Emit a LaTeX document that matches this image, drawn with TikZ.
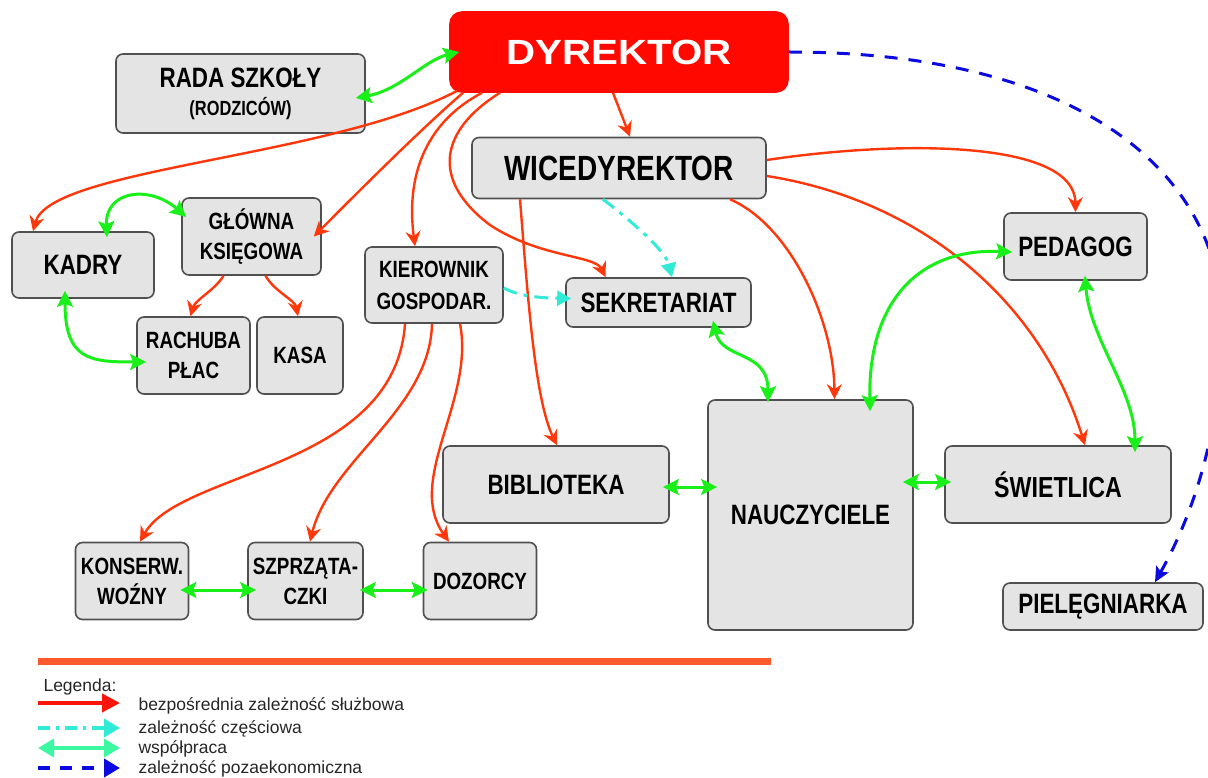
\documentclass[tikz,border=0pt]{standalone}
\usepackage{fontspec}
\setmainfont{Liberation Sans}
\newfontfamily\boxfont{Liberation Sans}[FakeStretch=0.8]
\newfontfamily\dirfont{Liberation Sans}[FakeStretch=1.15]
\usetikzlibrary{arrows.meta}
\definecolor{dyrred}{RGB}{255,8,0}
\definecolor{redline}{RGB}{255,55,10}
\definecolor{greenline}{RGB}{25,240,25}
\definecolor{cyanline}{RGB}{50,235,215}
\definecolor{blueline}{RGB}{10,10,225}
\definecolor{boxfill}{RGB}{228,228,228}
\definecolor{boxline}{RGB}{80,80,80}
\definecolor{barcolor}{RGB}{255,90,45}
\definecolor{leggreen}{RGB}{60,248,160}
\definecolor{legred}{RGB}{255,20,10}

\begin{document}
\begin{tikzpicture}[x=1pt,y=-1pt,
    orgbox/.style={draw=boxline,fill=boxfill,line width=1.6pt,rounded corners=7pt,inner sep=0pt,align=center},
    bigtxt/.style={font=\boxfont\bfseries\fontsize{28}{30}\selectfont},
    midtxt/.style={font=\boxfont\bfseries\fontsize{23.5}{30}\selectfont},
    legtxt/.style={font=\fontsize{17.5}{20}\selectfont,text=black!85},
    dep/.style={redline,line width=2.4pt,-{Stealth[length=15pt,width=15pt,inset=5pt]}},
    part/.style={cyanline,line width=3pt,dash pattern=on 14pt off 7pt on 4pt off 7pt,-{Triangle[length=14pt,width=15pt]}},
    coop/.style={greenline,line width=3pt,{Stealth[length=16pt,width=16pt,inset=3pt]}-{Stealth[length=16pt,width=16pt,inset=3pt]}},
    nonecon/.style={blueline,line width=3pt,dash pattern=on 13pt off 11pt,-{Stealth[length=15pt,width=14pt,inset=3pt]}}]
          \useasboundingbox (0,0) rectangle (1208,778);
          \clip (0,0) rectangle (1208,778);

          \node[orgbox,fill=dyrred,draw=dyrred,rounded corners=12pt,minimum width=338pt,minimum height=80pt,
                font=\dirfont\bfseries\fontsize{35}{36}\selectfont,text=white] (dyr) at (619,52) {DYREKTOR};
          \node[orgbox,minimum width=249pt,minimum height=79pt,font=\boxfont\bfseries\fontsize{20.5}{24}\selectfont] (rada) at (240.5,93.5)
                {{\fontsize{28}{30}\selectfont RADA SZKOŁY}\\[4pt](RODZICÓW)};
          \node[orgbox,font=\boxfont\bfseries\fontsize{35}{36}\selectfont,minimum width=294pt,minimum height=61pt] (wice) at (619,168) {WICEDYREKTOR};
          \node[orgbox,bigtxt,minimum width=142pt,minimum height=66pt] (kadry) at (83,265) {KADRY};
          \node[orgbox,midtxt,minimum width=139pt,minimum height=77pt] (glowna) at (251.5,236.5) {GŁÓWNA\\KSIĘGOWA};
          \node[orgbox,midtxt,minimum width=138pt,minimum height=76pt] (kier) at (434,285) {KIEROWNIK\\[2pt]GOSPODAR.};
          \node[orgbox,bigtxt,minimum width=185pt,minimum height=49pt] (sekr) at (658.5,302.5) {SEKRETARIAT};
          \node[orgbox,midtxt,minimum width=113pt,minimum height=77pt] (rachuba) at (193.5,355.5) {RACHUBA\\PŁAC};
          \node[orgbox,midtxt,minimum width=86pt,minimum height=77pt] (kasa) at (300,355.5) {KASA};
          \node[orgbox,bigtxt,minimum width=143pt,minimum height=67pt] (pedagog) at (1075.5,246.5) {PEDAGOG};
          \node[orgbox,bigtxt,minimum width=205pt,minimum height=230pt] (nauc) at (810.5,515) {NAUCZYCIELE};
          \node[orgbox,bigtxt,minimum width=226pt,minimum height=77pt] (bibl) at (556,484.5) {BIBLIOTEKA};
          \node[orgbox,font=\boxfont\bfseries\fontsize{29}{30}\selectfont,minimum width=226pt,minimum height=77pt] (swiet) at (1058,484.5) {ŚWIETLICA};
          \node[orgbox,bigtxt,minimum width=200pt,minimum height=47pt] (pielegn) at (1103,606.5) {PIELĘGNIARKA};
          \node[orgbox,midtxt,minimum width=113pt,minimum height=77pt] (konserw) at (132,581) {KONSERW.\\WOŹNY};
          \node[orgbox,midtxt,minimum width=115pt,minimum height=77pt] (szprz) at (305.5,581) {SZPRZĄTA-\\CZKI};
          \node[orgbox,midtxt,minimum width=113pt,minimum height=77pt] (dozor) at (480,581) {DOZORCY};

          \draw[dep] ([xshift=-6pt]dyr.south) -- ([xshift=11pt]wice.north);
          \draw[dep] ([xshift=8pt,yshift=2pt]dyr.south west) .. controls (330,158) and (50,168) .. ([xshift=-50pt]kadry.north);
          \draw[dep] ([xshift=-156pt]dyr.south) .. controls (420,130) and (360,190) .. ([xshift=-8pt]glowna.east);
          \draw[dep] ([xshift=-137pt]dyr.south) .. controls (430,120) and (405,170) .. ([xshift=-19pt]kier.north);
          \draw[dep] ([xshift=-119pt]dyr.south) .. controls (440,130) and (430,180) .. (490,225) .. controls (540,258) and (595,255) .. ([xshift=-53pt]sekr.north);
          \draw[dep] ([xshift=-99pt]wice.south) .. controls (528,300) and (535,400) .. ([xshift=1pt]bibl.north);
          \draw[dep] ([xshift=111pt]wice.south) .. controls (790,225) and (834,320) .. ([xshift=24pt]nauc.north);
          \draw[dep] ([yshift=8pt]wice.east) .. controls (900,140) and (1075,140) .. (pedagog.north);
          \draw[dep] ([yshift=-8pt]wice.east) .. controls (920,200) and (1040,300) .. ([xshift=27pt]swiet.north);
          \draw[dep] ([xshift=-28pt]glowna.south) .. controls (215,290) and (195,300) .. ([xshift=-3pt]rachuba.north);
          \draw[dep] ([xshift=14pt]glowna.south) .. controls (275,292) and (295,300) .. ([xshift=-2pt]kasa.north);
          \draw[dep] ([xshift=-29pt]kier.south) .. controls (395,470) and (180,470) .. ([xshift=8pt]konserw.north);
          \draw[dep] ([xshift=-2pt]kier.south) .. controls (430,410) and (330,460) .. ([xshift=4.5pt]szprz.north);
          \draw[dep] ([xshift=26pt]kier.south) .. controls (475,400) and (405,480) .. ([xshift=-31pt]dozor.north);

          \draw[part] ([xshift=-16pt]wice.south) .. controls (630,220) and (665,250) .. ([xshift=13.5pt]sekr.north);
          \draw[part] ([yshift=-3pt]kier.east) .. controls (520,297) and (545,298) .. ([xshift=6pt,yshift=4pt]sekr.west);

          \draw[coop] ([xshift=-10pt,yshift=-4.5pt]rada.east) .. controls (400,90) and (425,60) .. ([xshift=10pt]dyr.west);
          \draw[coop] ([xshift=24pt,yshift=-6pt]kadry.north) .. controls (105,190) and (150,185) .. ([xshift=5pt,yshift=19.5pt]glowna.west);
          \draw[coop] ([xshift=-18pt,yshift=8pt]kadry.south) .. controls (65,360) and (90,362) .. ([xshift=10pt,yshift=-6.5pt]rachuba.west);
          \draw[coop] ([xshift=54.5pt,yshift=7pt]sekr.south) .. controls (722,360) and (768,350) .. ([xshift=-42.5pt,yshift=-3pt]nauc.north);
          \draw[coop] ([xshift=9pt,yshift=-5.5pt]pedagog.west) .. controls (920,248) and (868,300) .. ([xshift=59.5pt,yshift=-12pt]nauc.north);
          \draw[coop] ([xshift=9.5pt,yshift=5pt]pedagog.south) .. controls (1090,340) and (1135,390) .. ([xshift=77pt,yshift=-7pt]swiet.north);
          \draw[coop] ([xshift=-7pt,yshift=-2.5pt]bibl.east) -- ([xshift=10pt,yshift=28pt]nauc.west);
          \draw[coop] ([xshift=-11pt,yshift=33pt]nauc.east) -- ([xshift=7pt,yshift=2.5pt]swiet.west);
          \draw[coop] ([xshift=-9pt,yshift=-9pt]konserw.east) -- ([xshift=9pt,yshift=-9pt]szprz.west);
          \draw[coop] ([xshift=-4pt,yshift=-9pt]szprz.east) -- ([xshift=5pt,yshift=-9pt]dozor.west);

          \draw[nonecon] (dyr.east) .. controls (1090,52) and (1225,180) .. (1222,330) .. controls (1220,440) and (1190,520) .. ([xshift=52pt]pielegn.north);

          \draw[barcolor,line width=7pt] (38,661) -- (771,661);
          \node[legtxt,anchor=base west] (legtitle) at (40,691) {Legenda:};
          \coordinate (r1a) at (38,703); \coordinate (r1b) at (120,703);
          \coordinate (r2a) at (38,728); \coordinate (r2b) at (120,728);
          \coordinate (r3a) at (38,748); \coordinate (r3b) at (120,748);
          \coordinate (r4a) at (38,768); \coordinate (r4b) at (120,768);
          \draw[legred,line width=4pt,-{Triangle[length=18pt,width=18pt]}] (r1a) -- (r1b);
          \draw[cyanline,line width=4pt,dash pattern=on 12pt off 6pt on 3pt off 6pt,-{Triangle[length=16pt,width=18pt]}] (r2a) -- (r2b);
          \draw[leggreen,line width=4pt,{Triangle[length=16pt,width=18pt]}-{Triangle[length=16pt,width=18pt]}] (r3a) -- (r3b);
          \draw[blueline,line width=4pt,dash pattern=on 12pt off 10pt,-{Triangle[length=16pt,width=18pt]}] (r4a) -- (r4b);
          \node[legtxt,anchor=base west] (leg1) at (135,710) {bezpośrednia zależność służbowa};
          \node[legtxt,anchor=base west] (leg2) at (135,733) {zależność częściowa};
          \node[legtxt,anchor=base west] (leg3) at (135,753) {współpraca};
          \node[legtxt,anchor=base west] (leg4) at (135,773) {zależność pozaekonomiczna};
        \end{tikzpicture}
\end{document}
